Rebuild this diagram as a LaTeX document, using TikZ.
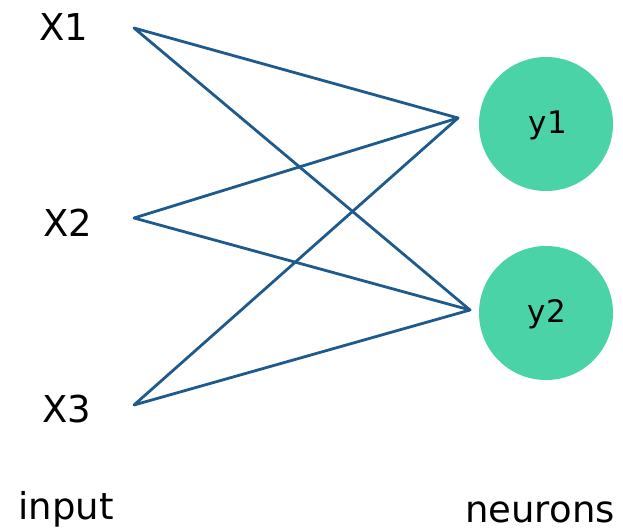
\documentclass[tikz,border=0pt]{standalone}
\usepackage{fontspec}
\setmainfont{DejaVu Sans}
\definecolor{wire}{HTML}{1F5A8C}
\definecolor{cell}{HTML}{4AD3A6}
\begin{document}
\begin{tikzpicture}[x=1pt,y=-1pt,
  lbl/.style={anchor=base,inner sep=0pt,font=\fontsize{37}{40}\selectfont},
  neuron/.style={circle,fill=cell,draw=none,minimum size=134pt,inner sep=0pt},
  nlbl/.style={anchor=base,inner sep=0pt,font=\fontsize{31}{34}\selectfont},
  wireline/.style={draw=wire,line width=2.8pt,line join=round,line cap=round}]
\useasboundingbox (0,0) rectangle (623,530);
% input labels
\node[lbl] (x1) at (64,40) {X1};
\node[lbl] (x2) at (68,236) {X2};
\node[lbl] (x3) at (67,422) {X3};
\node[lbl] (inp) at (66,519) {input};
\node[lbl] (neu) at (540,522) {neurons};
% neurons
\node[neuron] (n1) at (546,124) {};
\node[neuron] (n2) at (546,313) {};
\node[nlbl] at (548,133) {y1};
\node[nlbl] at (547,322) {y2};
% wiring points
\coordinate (a1) at (134,28);
\coordinate (a2) at (134,218);
\coordinate (a3) at (134,405);
\coordinate (b1) at (458,118);
\coordinate (b2) at (470,310);
\draw[wireline] (b1) -- (a1) -- (b2);
\draw[wireline] (b1) -- (a2) -- (b2);
\draw[wireline] (b1) -- (a3) -- (b2);
\end{tikzpicture}
\end{document}
